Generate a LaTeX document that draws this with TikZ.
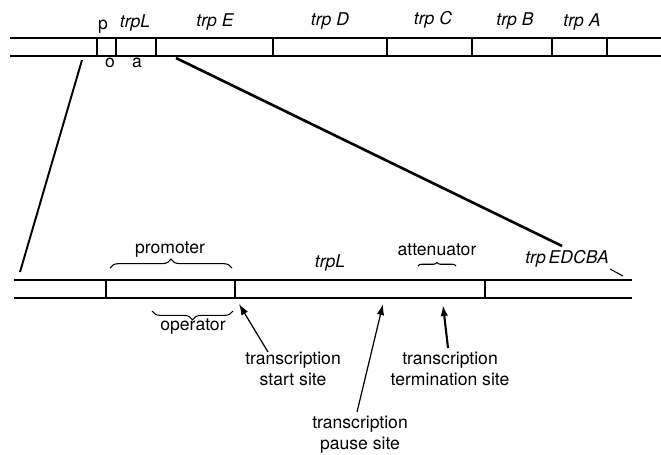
\documentclass[tikz,border=0pt]{standalone}
\usepackage{fontspec}
\setmainfont{TeX Gyre Heros}
\usetikzlibrary{arrows.meta}
\usetikzlibrary{calc}
\usetikzlibrary{decorations.pathreplacing}

\begin{document}
\begin{tikzpicture}[
		x=0.02cm, y=-0.02cm,
		strand/.style={
		% The DNA strands:
		line width=1.1pt,
		draw=black
		},
		divider/.style={
		% Boundaries between regions
		line width=1.1pt
		},
		genename/.style={
		% Gene names
		anchor=base,
		inner sep=0pt,
		font=\fontsize{10}{12}\selectfont\itshape
		},
		regionname/.style={
		anchor=base,
		inner sep=0pt,
		font=\fontsize{10}{12}\selectfont
		},
		sitename/.style={
		anchor=north,
		align=center,
		inner sep=0pt,
		font=\fontsize{10}{12}\selectfont
		},
		sitearrow/.style={
		-{Latex[length=2.2mm,width=1.5mm]},
		line width=0.7pt
		},
		overbrace/.style={
		decorate,
		decoration={brace,amplitude=5pt},
		line width=0.6pt
		}
	]
	\useasboundingbox (0,0) rectangle (661,454);

	% operon on the chromosome
	\draw [strand] (10,38) -- (661,38);
	\draw [strand] (10,56) -- (661,56);
	\foreach \x in {97,116,156,273,387,472,552,607}
		\draw [divider] (\x,38) -- (\x,56);

	\node (P)[regionname] at (103,29) {p};
	\node (O)[regionname] at (110,67) {o};
	\node (A)[regionname] at (137,67) {a};
	\node (TL)[genename] at (135,27) {trpL};
	\node (TE)[genename] at (215,26) {trp E};
	\node (TD)[genename] at (330,25) {trp D};
	\node (TC)[genename] at (433,24) {trp C};
	\node (TB)[genename] at (515,25) {trp B};
	\node (TA)[genename] at (582,26) {trp A};

	% enlargement of the control region
	\coordinate (ZL1) at (82,60);
	\coordinate (ZL2) at (20,272);
	\coordinate (ZR1) at (176,58);
	\coordinate (ZR2) at (562,246);
	\draw [line width=1.1pt] (ZL1) -- (ZL2);
	\draw [line width=1.5pt] (ZR1) -- (ZR2);

	\draw [strand] (14,280) -- (632,280);
	\draw [strand] (14,298) -- (632,298);
	\foreach \x in {106,235,485}
		\draw [divider] (\x,280) -- (\x,298);

	\node (PROM)[regionname] at (170,253) {promoter};
	\node (OPER)[regionname] at (193,330) {operator};
	\node (LEAD)[genename] at (330,267) {trpL};
	\node (ATT)[regionname] at (437,255) {attenuator};
	\node (EDCBA)[genename] at (567,263) {trp\,EDCBA};
	\coordinate (E1) at (610,269);
	\coordinate (E2) at (623,276);
	\draw [line width=0.6pt] (E1) -- (E2);

	\draw [overbrace] (110,268) -- (232,268);
	\draw [overbrace] (233,311) -- (152,311);
	\draw [overbrace, decoration={brace,amplitude=2pt}] (418,266) -- (456,266);

	% transcription sites
	\coordinate (START) at (239,304);
	\coordinate (PAUSE) at (383,304);
	\coordinate (TERM) at (443,305);

	\node (SL)[sitename] at (293,352) {transcription\\start site};
	\node (TL2)[sitename] at (450,352) {transcription\\termination site};
	\node (PL)[sitename] at (360,416) {transcription\\pause site};

	\draw [sitearrow] ($(SL.north)+(-25,0)$) -- (START);
	\draw [sitearrow] ($(PL.north)+(-3,-4)$) -- (PAUSE);
	\draw [sitearrow, line width=1.2pt] ($(TL2.north)+(-2,-4)$) -- (TERM);
\end{tikzpicture}
\end{document}
